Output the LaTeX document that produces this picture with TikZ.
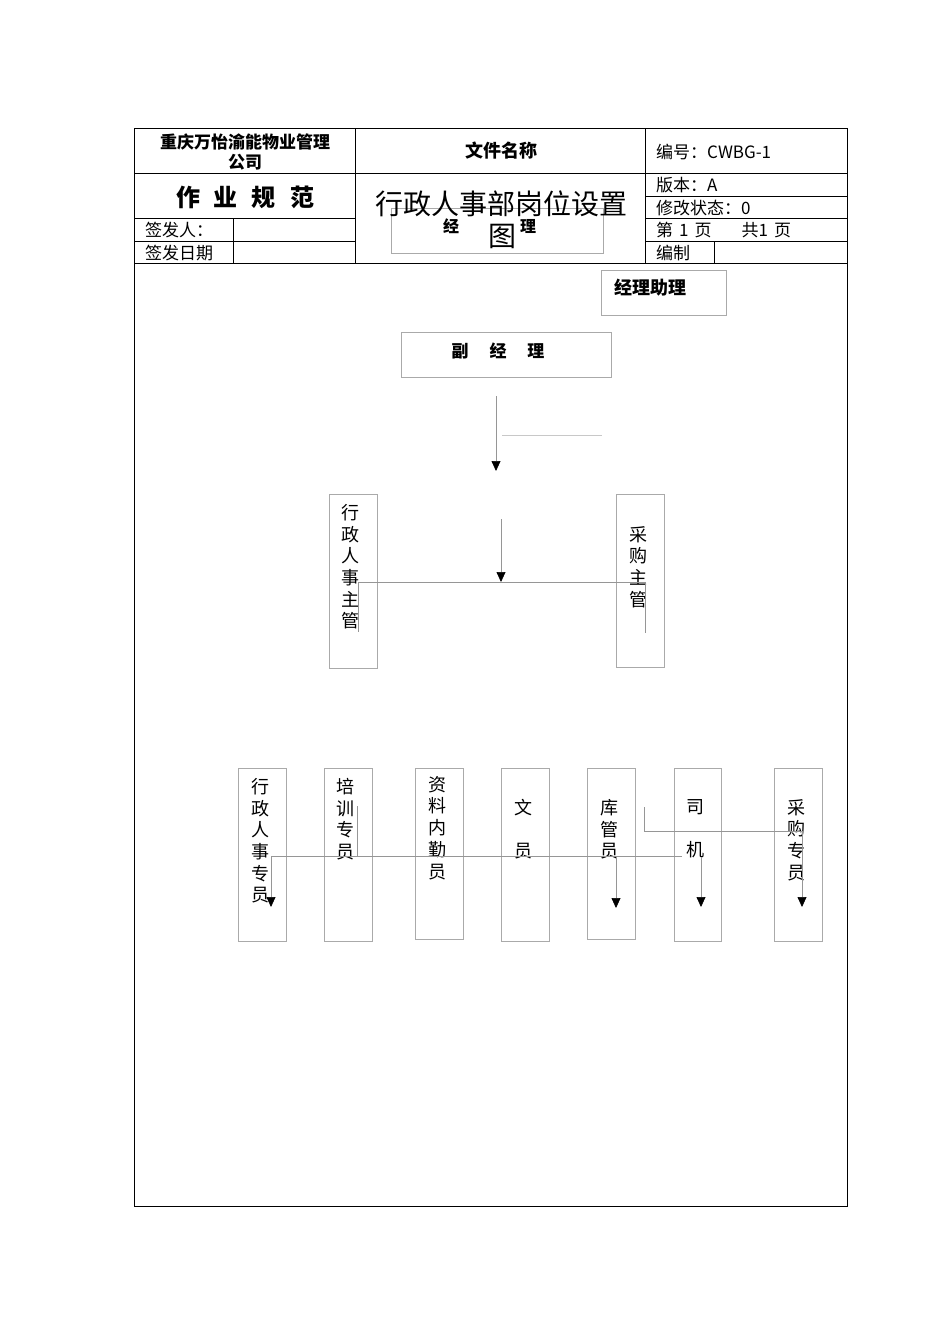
\documentclass[tikz,border=0pt]{standalone}
\usepackage{fontspec}
\setmainfont{Noto Sans CJK SC}
\newfontfamily\cjk{Noto Sans CJK SC}
\usetikzlibrary{arrows.meta}
\definecolor{boxgray}{RGB}{170,170,170}
\definecolor{linegray}{RGB}{150,150,150}
\definecolor{lightline}{RGB}{200,200,200}
\tikzset{
  frame/.style={draw=black, line width=1pt},
  box/.style={draw=boxgray, line width=0.9pt, anchor=north west, inner sep=0pt},
  conn/.style={draw=linegray, line width=0.7pt},
  arr/.style={conn, -{Triangle[width=9pt,length=10pt,color=black]}},
  vtext/.style={font=\cjk\fontsize{18}{21.7}\selectfont, align=center, anchor=north, inner sep=0pt},
  htext/.style={font=\cjk\fontsize{17}{20}\selectfont, inner sep=0pt},
  hleft/.style={htext, anchor=west},
}
\begin{document}
\begin{tikzpicture}[x=1pt,y=-1pt]
\useasboundingbox (0,0) rectangle (950,1344);
% ---------- header table ----------
\draw[frame] (134,128) rectangle (847,1206);
\draw[frame] (134,173) -- (847,173);
\draw[frame] (134,263) -- (847,263);
\draw[frame] (355,128) -- (355,263);
\draw[frame] (645,128) -- (645,263);
\draw[frame] (134,218) -- (355,218);
\draw[frame] (134,241) -- (355,241);
\draw[frame] (233,218) -- (233,263);
\draw[frame] (645,196) -- (847,196);
\draw[frame] (645,218) -- (847,218);
\draw[frame] (645,241) -- (847,241);
\draw[frame] (714,241) -- (714,263);

\node[htext, font=\cjk\bfseries\fontsize{17}{20}\selectfont, align=center] (company) at (245,152) {重庆万怡渝能物业管理\\公司};
\node[htext, font=\cjk\bfseries\fontsize{18}{20}\selectfont] (docname) at (501,151) {文件名称};
\node[hleft] (docno) at (656,152) {编号：CWBG-1};
\node[htext, font=\cjk\bfseries\fontsize{24}{26}\selectfont] (spec) at (245,197) {作\hspace{14pt}业\hspace{14pt}规\hspace{14pt}范};
\node[hleft] (signer) at (145,230) {签发人：};
\node[hleft] (signdate) at (145,253) {签发日期};
\node[hleft] (ver) at (656,185) {版本：A};
\node[hleft] (state) at (656,208) {修改状态：0};
\node[hleft] (page) at (656,230) {第\hspace{6pt}1\hspace{6pt}页\hspace{30pt}共1\hspace{6pt}页};
\node[hleft] (editor) at (656,253) {编制};

% title inner gray box (manager box behind title)
\node[box, minimum width=212pt, minimum height=45pt] (mgr) at (391,208) {};
\node[htext, font=\cjk\bfseries\fontsize{16}{18}\selectfont] (mgrA) at (451,226) {经};
\node[htext, font=\cjk\bfseries\fontsize{16}{18}\selectfont] (mgrB) at (528,226) {理};
\node[htext, font=\cjk\fontsize{28}{30}\selectfont] (title1) at (501,204) {行政人事部岗位设置};
\node[htext, font=\cjk\fontsize{28}{30}\selectfont] (title2) at (502,236) {图};

% ---------- upper boxes ----------
\node[box, minimum width=125pt, minimum height=45pt] (assist) at (601,270) {};
\node[htext, font=\cjk\bfseries\fontsize{18}{20}\selectfont, anchor=west] (assistT) at (614,288) {经理助理};
\node[box, minimum width=210pt, minimum height=45pt] (vice) at (401,332) {};
\node[htext, font=\cjk\bfseries\fontsize{17}{20}\selectfont] (viceT) at (498,351) {副\hspace{21pt}经\hspace{21pt}理};

\node[box, minimum width=48pt, minimum height=174pt] (adminsup) at (329,494) {};
\node[vtext] (adminsupT) at (350,504) {行\\政\\人\\事\\主\\管};
\node[box, minimum width=48pt, minimum height=173pt] (purchsup) at (616,494) {};
\node[vtext] (purchsupT) at (638,526) {采\\购\\主\\管};

% ---------- lower boxes ----------
\node[box, minimum width=48pt, minimum height=173pt] (b1) at (238,768) {};
\node[vtext] (b1T) at (260,778) {行\\政\\人\\事\\专\\员};
\node[box, minimum width=48pt, minimum height=173pt] (b2) at (324,768) {};
\node[vtext] (b2T) at (345,778) {培\\训\\专\\员};
\node[box, minimum width=48pt, minimum height=171pt] (b3) at (415,768) {};
\node[vtext] (b3T) at (437,776) {资\\料\\内\\勤\\员};
\node[box, minimum width=48pt, minimum height=173pt] (b4) at (501,768) {};
\node[vtext] (b4T) at (523,799) {文\\[21.7pt]员};
\node[box, minimum width=48pt, minimum height=171pt] (b5) at (587,768) {};
\node[vtext] (b5T) at (609,799) {库\\管\\员};
\node[box, minimum width=47pt, minimum height=173pt] (b6) at (674,768) {};
\node[vtext] (b6T) at (695,799) {司\\[21.7pt]机};
\node[box, minimum width=48pt, minimum height=173pt] (b7) at (774,768) {};
\node[vtext] (b7T) at (796,799) {采\\购\\专\\员};

% ---------- connectors ----------
\coordinate (a1) at (496,396);
\coordinate (a1e) at (496,471);
\coordinate (l1s) at (502,435);
\coordinate (l1e) at (602,435);
\coordinate (a2) at (501,519);
\coordinate (a2e) at (501,582);
\coordinate (hL) at (358,582);
\coordinate (hR) at (645,582);
\coordinate (hLd) at (358,632);
\coordinate (hRd) at (645,633);

\draw[arr] (a1) -- (a1e);
\draw[draw=lightline, line width=0.7pt] (l1s) -- (l1e);
\draw[conn] (hL) -- (hR);
\draw[conn] (hL) -- (hLd);
\draw[conn] (hR) -- (hRd);
\draw[arr] (a2) -- (a2e);

\coordinate (bh1) at (271,856);
\coordinate (bh2) at (682,856);
\coordinate (bv1) at (271,907);
\coordinate (t2a) at (357,806);
\coordinate (t2b) at (357,856);
\coordinate (k1) at (616,857);
\coordinate (k2) at (616,908);
\coordinate (s1) at (701,857);
\coordinate (s2) at (701,907);
\coordinate (p1) at (644,807);
\coordinate (p2) at (644,831);
\coordinate (p3) at (802,831);
\coordinate (p4) at (802,907);

\draw[conn] (bh1) -- (bh2);
\draw[arr] (bh1) -- (bv1);
\draw[conn] (t2a) -- (t2b);
\draw[arr] (k1) -- (k2);
\draw[arr] (s1) -- (s2);
\draw[arr] (p1) -- (p2) -- (p3) -- (p4);
\end{tikzpicture}
\end{document}
